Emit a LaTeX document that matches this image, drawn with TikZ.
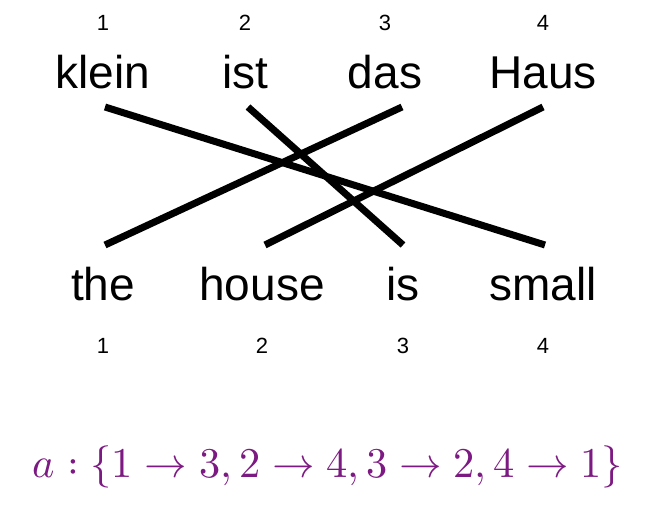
\documentclass[tikz,border=0pt]{standalone}
\usepackage{fontspec}
\setmainfont{Liberation Sans}
\usepackage{unicode-math}
\setmathfont{Latin Modern Math}
\definecolor{formula}{RGB}{125,25,130}
\tikzset{
  word/.style={anchor=base, inner sep=0pt, font=\fontsize{46}{50}\selectfont},
  idx/.style={anchor=base, inner sep=0pt, font=\fontsize{22}{24}\selectfont},
  link/.style={line width=7pt, line cap=butt, black}
}
\begin{document}
\begin{tikzpicture}[x=1pt,y=-1pt]
\useasboundingbox (0,0) rectangle (652,522);
% top indices
\node[idx] (n1) at (103,30) {1};
\node[idx] (n2) at (245,30) {2};
\node[idx] (n3) at (385,30) {3};
\node[idx] (n4) at (543,30) {4};
% German
\node[word] (klein) at (103,88) {klein};
\node[word] (ist) at (245,88) {ist};
\node[word] (das) at (385,88) {das};
\node[word] (Haus) at (543,88) {Haus};
% English
\node[word] (the) at (103,300) {the};
\node[word] (house) at (262,300) {house};
\node[word] (is) at (403,300) {is};
\node[word] (small) at (543,300) {small};
% bottom indices
\node[idx] (m1) at (103,353) {1};
\node[idx] (m2) at (262,353) {2};
\node[idx] (m3) at (403,353) {3};
\node[idx] (m4) at (543,353) {4};
% link ends
\coordinate (kleinE) at (105,107);
\coordinate (istE) at (248,107);
\coordinate (dasE) at (402,107);
\coordinate (HausE) at (543,107);
\coordinate (theE) at (105,245);
\coordinate (houseE) at (265,245);
\coordinate (isE) at (403,245);
\coordinate (smallE) at (545,245);
\draw[link] (kleinE) -- (smallE);
\draw[link] (istE) -- (isE);
\draw[link] (dasE) -- (theE);
\draw[link] (HausE) -- (houseE);
% formula
\node[text=formula, inner sep=0pt] (align) at (328,467)
  {\resizebox{590pt}{!}{$a:\{1\rightarrow 3,2\rightarrow 4,3\rightarrow 2,4\rightarrow 1\}$}};
\end{tikzpicture}
\end{document}
